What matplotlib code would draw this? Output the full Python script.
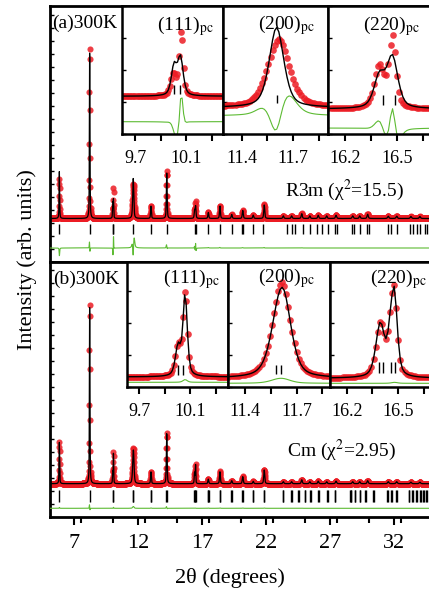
import matplotlib.pyplot as plt
import numpy as np
from matplotlib.ticker import FixedLocator, MultipleLocator, NullFormatter

plt.rcParams["font.family"] = ["Liberation Serif", "DejaVu Serif"]
plt.rcParams["mathtext.fontset"] = "stix"

W, H = 429, 593

# measurement grid, 2theta in degrees
two_theta = np.arange(5.10, 34.87, 0.012)

# (a) R3m refinement: observed / calculated peaks (height above background, fwhm)
r3m_pos_obs = [5.830, 8.200, 10.000, 10.060, 11.615, 12.990, 14.220, 16.400, 16.475,
               17.470, 18.380, 19.300, 20.160, 20.980, 21.840, 23.330, 23.980, 24.770,
               25.400, 26.060, 26.720, 27.450, 28.750, 29.300, 29.920, 31.530, 32.190,
               33.300, 34.000]
r3m_pos_calc = [5.831, 8.201, 10.005, 10.055, 11.603, 12.990, 14.222, 16.400, 16.475,
                17.470, 18.381, 19.300, 20.161, 20.980, 21.841, 23.330, 23.980, 24.770,
                25.400, 26.060, 26.720, 27.450, 28.750, 29.300, 29.920, 31.530, 32.190,
                33.300, 34.000]
r3m_h_obs = [39.5, 173.0, 10.0, 31.0, 34.0, 12.5, 47.5, 10.0, 16.5,
             6.5, 13.0, 4.0, 8.3, 3.3, 14.0, 2.6, 2.6, 5.0,
             2.6, 3.3, 2.6, 3.3, 2.6, 2.6, 4.3, 2.3, 2.3,
             2.0, 2.0]
r3m_h_calc = [47.0, 171.0, 14.0, 18.0, 40.0, 12.5, 45.5, 7.5, 12.0,
              6.0, 12.5, 4.0, 8.0, 3.3, 13.5, 2.6, 2.6, 4.8,
              2.6, 3.2, 2.6, 3.2, 2.6, 2.6, 4.2, 2.3, 2.3,
              2.0, 2.0]
r3m_w_obs = [0.05, 0.05, 0.05, 0.035, 0.15, 0.07, 0.07, 0.07, 0.045,
             0.08, 0.08, 0.09, 0.09, 0.09, 0.09, 0.10, 0.10, 0.10,
             0.10, 0.10, 0.10, 0.11, 0.11, 0.11, 0.11, 0.12, 0.12,
             0.12, 0.12]
r3m_w_calc = [0.05, 0.05, 0.05, 0.05, 0.10, 0.07, 0.07, 0.075, 0.075,
              0.08, 0.08, 0.09, 0.09, 0.09, 0.09, 0.10, 0.10, 0.10,
              0.10, 0.10, 0.10, 0.11, 0.11, 0.11, 0.11, 0.12, 0.12,
              0.12, 0.12]
r3m_bragg = [5.83, 8.20, 10.005, 10.053, 11.603, 12.99, 14.22, 16.42, 16.49, 17.47,
             18.38, 19.29, 20.08, 20.20, 20.98, 21.76, 23.59, 23.98, 24.24, 24.84,
             25.41, 25.93, 26.32, 26.84, 27.37, 27.50, 28.67, 28.85, 29.32, 29.84,
             30.04, 31.53, 31.72, 32.19, 33.23, 33.49, 33.80, 34.01, 34.40, 34.58]
r3m_background = 43.5

# (b) Cm refinement
cm_pos_obs = [5.830, 8.200, 10.005, 10.060, 11.590, 11.625, 12.990, 14.220, 16.395,
              16.455, 16.478, 17.470, 18.380, 19.300, 20.160, 20.980, 21.840, 23.330,
              23.980, 24.770, 25.400, 26.060, 26.720, 27.450, 28.750, 29.300, 29.920,
              31.530, 32.190, 33.300, 34.000]
cm_pos_calc = [5.830, 8.2005, 10.005, 10.060, 11.590, 11.625, 12.990, 14.221, 16.395,
               16.455, 16.478, 17.470, 18.380, 19.300, 20.160, 20.980, 21.840, 23.330,
               23.980, 24.770, 25.400, 26.060, 26.720, 27.450, 28.750, 29.300, 29.920,
               31.530, 32.190, 33.300, 34.000]
cm_h_obs = [42.3, 182.5, 11.0, 31.0, 14.0, 24.0, 12.3, 51.0, 11.0,
            7.0, 15.5, 4.7, 12.3, 3.0, 7.3, 2.3, 14.0, 2.0,
            2.0, 4.0, 2.0, 2.5, 2.0, 2.5, 2.0, 2.0, 3.0,
            2.0, 2.0, 1.5, 1.5]
cm_h_calc = [41.5, 181.0, 11.0, 30.0, 13.0, 23.0, 12.0, 50.0, 11.0,
             7.0, 15.3, 4.5, 12.0, 3.0, 7.0, 2.3, 13.7, 2.0,
             2.0, 3.9, 2.0, 2.5, 2.0, 2.5, 2.0, 2.0, 3.0,
             2.0, 2.0, 1.5, 1.5]
cm_w = [0.05, 0.05, 0.05, 0.04, 0.12, 0.11, 0.07, 0.07, 0.06,
        0.04, 0.04, 0.08, 0.08, 0.09, 0.09, 0.09, 0.09, 0.10,
        0.10, 0.10, 0.10, 0.10, 0.10, 0.11, 0.11, 0.11, 0.11,
        0.12, 0.12, 0.12, 0.12]
cm_bragg = [5.83, 8.20, 10.007, 10.046, 11.58, 11.61, 12.98, 13.00, 14.20, 14.23,
            16.39, 16.41, 16.46, 16.48, 17.42, 17.46, 17.49, 18.36, 18.40, 19.27,
            19.31, 20.10, 20.15, 20.95, 21.00, 21.80, 21.85, 23.28, 23.33, 23.95,
            24.00, 24.50, 24.55, 25.00, 25.05, 25.45, 25.50, 26.03, 26.08, 26.75,
            26.80, 27.35, 27.40, 28.55, 28.60, 28.65, 28.90, 28.95, 29.30, 29.35,
            29.75, 29.80, 30.33, 30.38, 31.45, 31.50, 31.78, 31.83, 32.17, 32.22,
            33.12, 33.17, 33.42, 33.47, 33.72, 33.77, 34.00, 34.05, 34.25, 34.30,
            34.50, 34.55]
cm_background = 33.3

inset_titles = ["(111)", "(200)", "(220)"]
inset_major = [[9.7, 10.1], [11.4, 11.7], [16.2, 16.5]]
inset_minor = [[9.9, 10.3], [11.55, 11.85], [16.35, 16.65]]

RED = "#ec1c24"
GREEN = "#5dbb33"


def pseudo_voigt(x, pos, height, fwhm, eta=0.5):
    u = ((x - pos) / (fwhm / 2)) ** 2
    return height * (eta / (1 + u) + (1 - eta) * np.exp(-np.log(2) * u))


def pattern(x, positions, heights, widths, background):
    y = np.full_like(x, background)
    for p, h, w in zip(positions, heights, widths):
        y += pseudo_voigt(x, p, h, w)
    return y


def fig_box(x0, y0, x1, y1):
    return [x0 / W, 1 - y1 / H, (x1 - x0) / W, (y1 - y0) / H]


def draw_main(ax, obs, calc, bragg, bragg_span, diff_base, ylim):
    ax.plot(two_theta, obs, "o", ms=4.4, color=RED, mec="none", alpha=0.85, zorder=2)
    ax.plot(two_theta, calc, color="black", lw=0.9, zorder=3)
    ax.plot(two_theta, diff_base + obs - calc, color=GREEN, lw=0.8, zorder=3)
    ax.vlines(bragg, *bragg_span, color="black", lw=1.0)
    ax.set_xlim(5.10, 34.87)
    ax.set_ylim(*ylim)
    for side in ax.spines.values():
        side.set_linewidth(2.0)
    ax.yaxis.set_major_locator(MultipleLocator(13))
    ax.yaxis.set_major_formatter(NullFormatter())
    ax.tick_params(axis="y", direction="in", length=3, width=1.0, left=True, right=False)


def draw_inset(box, xlim, ylim, obs, calc, bg, base, scale, diff_base, bragg,
               bragg_span, title, title_xy, major, minor):
    ax = fig.add_axes(fig_box(*box))
    mask = (two_theta > xlim[0] - 0.05) & (two_theta < xlim[1] + 0.05)
    xs = two_theta[mask]
    ax.plot(xs, base + scale * (obs[mask] - bg), "o", ms=4.8, color=RED, mec="none",
            alpha=0.85, zorder=2)
    ax.plot(xs, base + scale * (calc[mask] - bg), color="black", lw=1.0, zorder=3)
    ax.plot(xs, diff_base + scale * (obs[mask] - calc[mask]), color=GREEN, lw=0.8)
    ticks = [b for b in bragg if xlim[0] < b < xlim[1]]
    ax.vlines(ticks, *bragg_span, color="black", lw=1.0)
    ax.set_xlim(*xlim)
    ax.set_ylim(*ylim)
    for side in ax.spines.values():
        side.set_linewidth(1.8)
    ax.xaxis.set_major_locator(FixedLocator(major))
    ax.xaxis.set_minor_locator(FixedLocator(minor))
    ax.set_xticklabels([f"{m:g}" for m in major])
    ax.tick_params(axis="x", which="major", direction="out", length=5, width=1.5,
                   labelsize=13, pad=6)
    ax.tick_params(axis="x", which="minor", direction="out", length=5, width=1.5)
    ax.yaxis.set_major_locator(MultipleLocator(32))
    ax.yaxis.set_major_formatter(NullFormatter())
    ax.tick_params(axis="y", direction="in", length=3, width=1.0, left=True, right=False)
    fig.text(title_xy[0] / W, 1 - title_xy[1] / H, title + r"$_{\mathrm{pc}}$",
             fontsize=14, ha="left", va="baseline")
    return ax


r3m_obs = pattern(two_theta, r3m_pos_obs, r3m_h_obs, r3m_w_obs, r3m_background)
r3m_calc = pattern(two_theta, r3m_pos_calc, r3m_h_calc, r3m_w_calc, r3m_background)
cm_obs = pattern(two_theta, cm_pos_obs, cm_h_obs, cm_w, cm_background)
cm_calc = pattern(two_theta, cm_pos_calc, cm_h_calc, cm_w, cm_background)

fig = plt.figure(figsize=(W / 100, H / 100), dpi=100)

ax_top = fig.add_axes(fig_box(50, 6, 431, 262))
draw_main(ax_top, r3m_obs, r3m_calc, r3m_bragg, (27.7, 37.7), 14.0, (0, 256))
ax_top.tick_params(axis="x", length=0, labelbottom=False)

ax_bot = fig.add_axes(fig_box(50, 262, 431, 517))
draw_main(ax_bot, cm_obs, cm_calc, cm_bragg, (15.0, 27.0), 8.7, (0, 255))
ax_bot.xaxis.set_major_locator(FixedLocator([7, 12, 17, 22, 27, 32]))
ax_bot.xaxis.set_minor_locator(MultipleLocator(2.5))
ax_bot.tick_params(axis="x", which="major", direction="out", length=6, width=1.5,
                   labelsize=16, pad=6)
ax_bot.tick_params(axis="x", which="minor", direction="out", length=4, width=1.5)

top_boxes = [(121.7, 6, 223.3, 134.3), (223.3, 6, 328.3, 134.3), (328.3, 6, 431, 134.3)]
top_xlims = [(9.596, 10.39), (11.293, 11.904), (16.103, 16.699)]
top_base = [38.0, 26.8, 25.3]
top_scale = [2.1, 2.0, 4.2]
top_diff = [12.6, 18.3, 6.3]
top_spans = [(40.3, 49.3), (31.3, 39.3), (29.3, 39.3)]
top_title_xy = [(156.7, 30), (257.7, 29), (363.3, 30)]
for i in range(3):
    draw_inset(top_boxes[i], top_xlims[i], (0, 128.3), r3m_obs, r3m_calc, r3m_background,
               top_base[i], top_scale[i], top_diff[i], r3m_bragg, top_spans[i],
               inset_titles[i], top_title_xy[i], inset_major[i], inset_minor[i])

bot_boxes = [(126.7, 262, 228.3, 387.3), (228.3, 262, 330, 387.3), (330, 262, 431, 387.3)]
bot_xlims = [(9.60, 10.40), (11.303, 11.894), (16.103, 16.69)]
bot_base = [10.3, 9.0, 9.0]
bot_scale = [2.7, 2.7, 4.8]
bot_diff = [5.0, 4.0, 4.0]
bot_spans = [(12.3, 22.3), (13.3, 22.3), (14.3, 25.3)]
bot_title_xy = [(162.7, 283), (258.3, 282), (370, 283)]
for i in range(3):
    draw_inset(bot_boxes[i], bot_xlims[i], (0, 125.3), cm_obs, cm_calc, cm_background,
               bot_base[i], bot_scale[i], bot_diff[i], cm_bragg, bot_spans[i],
               inset_titles[i], bot_title_xy[i], inset_major[i], inset_minor[i])

fig.text(51.7 / W, 1 - 27.5 / H, "(a)300K", fontsize=14, ha="left", va="baseline")
fig.text(53 / W, 1 - 284 / H, "(b)300K", fontsize=14, ha="left", va="baseline")
fig.text(285 / W, 1 - 196 / H, "R3m (χ$^2$=15.5)", fontsize=14, ha="left", va="baseline")
fig.text(286.7 / W, 1 - 456 / H, "Cm (χ$^2$=2.95)", fontsize=14, ha="left", va="baseline")
fig.text(230 / W, 1 - 578 / H, "2θ (degrees)", fontsize=16, ha="center", va="center")
fig.text(27.5 / W, 1 - 260 / H, "Intensity (arb. units)", fontsize=16, rotation=90,
         ha="center", va="center")

fig.savefig("out.png", dpi=100)
